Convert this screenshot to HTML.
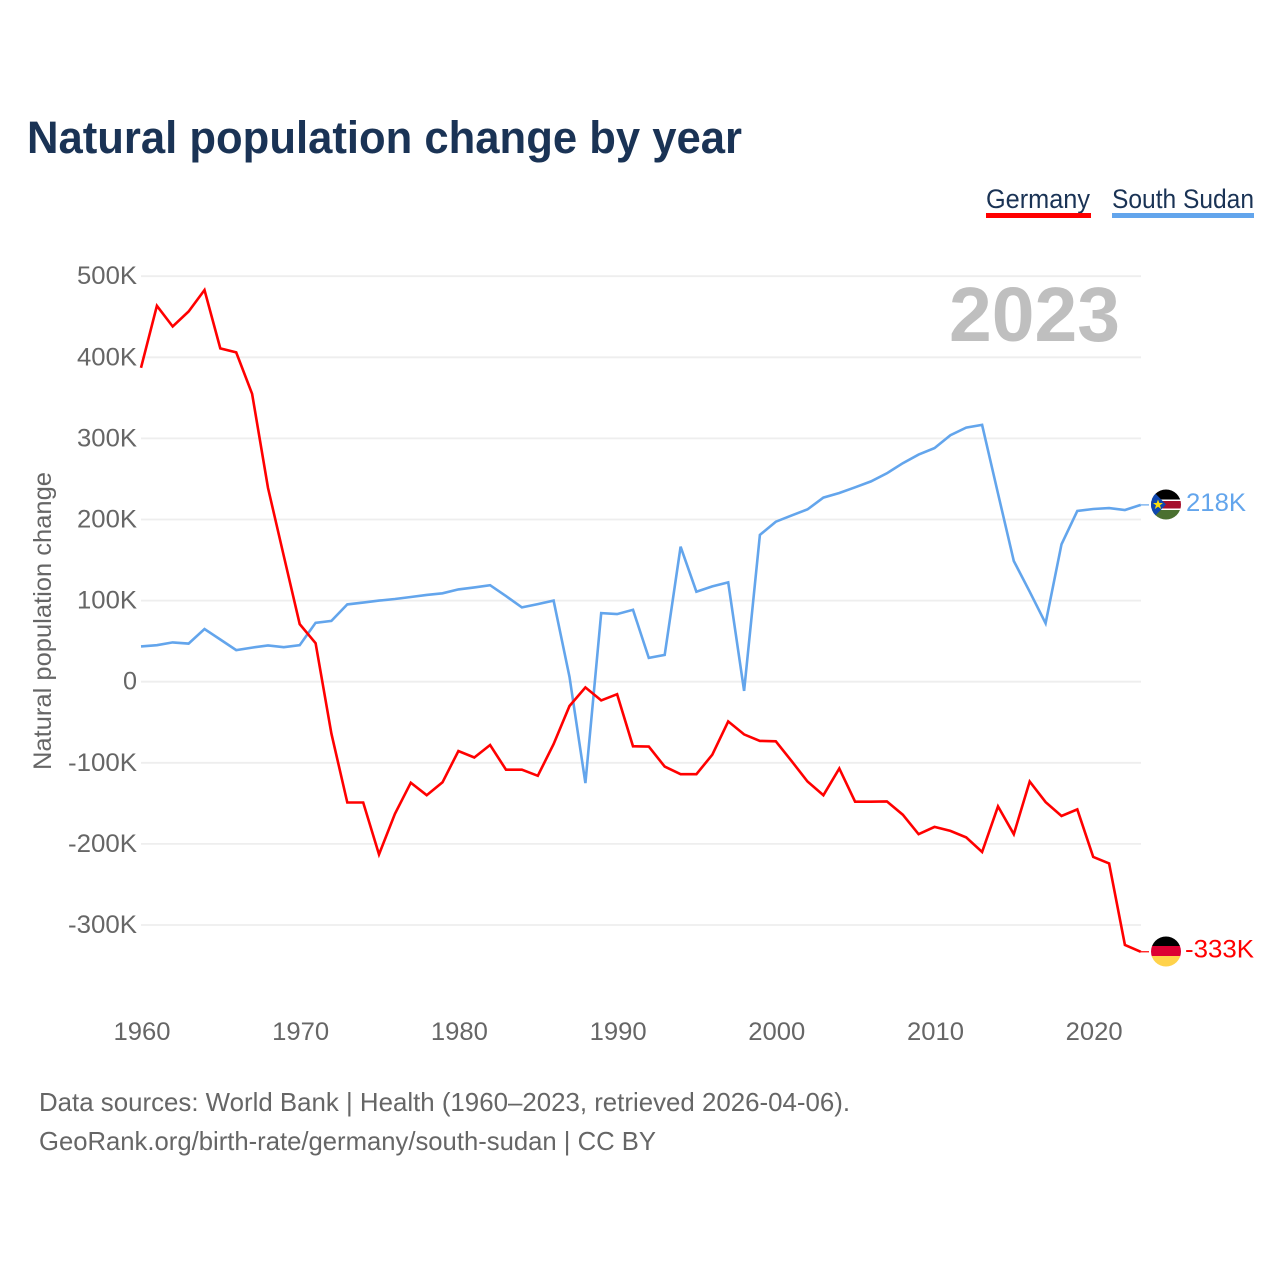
<!DOCTYPE html>
<html lang="en">
<head>
<meta charset="utf-8">
<title>Natural population change by year</title>
<style>
html,body{margin:0;padding:0;background:#fff;}
svg{display:block;font-family:"Liberation Sans",sans-serif;}
</style>
</head>
<body>
<svg id="chart" xmlns="http://www.w3.org/2000/svg" width="1280" height="1280" viewBox="0 0 1280 1280">
  <defs>
    <clipPath id="clip-ss"><circle cx="1166" cy="504.5" r="15"/></clipPath>
    <clipPath id="clip-de"><circle cx="1166" cy="951.5" r="15"/></clipPath>
  </defs>
  <rect width="1280" height="1280" fill="#fff"/>
  <text x="27" y="153" font-size="45" font-weight="700" fill="#1a3355" textLength="715" lengthAdjust="spacingAndGlyphs">Natural population change by year</text>

  <g>
    <text x="986" y="208" font-size="27" fill="#1a3355" textLength="104" lengthAdjust="spacingAndGlyphs">Germany</text>
    <rect x="986" y="213" width="105" height="5" fill="#ff0000"/>
  </g>
  <g>
    <text x="1112" y="208" font-size="27" fill="#1a3355" textLength="142" lengthAdjust="spacingAndGlyphs">South Sudan</text>
    <rect x="1112" y="213" width="142" height="5" fill="#63a5ec"/>
  </g>

  <g id="grid"></g>
  <g id="y-ticks"></g>
  <g id="x-ticks"></g>

  <text x="1120" y="341" text-anchor="end" font-size="77" font-weight="700" fill="#bfbfbf" textLength="171" lengthAdjust="spacingAndGlyphs">2023</text>

  <text transform="translate(51,770) rotate(-90)" font-size="25" fill="#666666" textLength="298" lengthAdjust="spacingAndGlyphs">Natural population change</text>

  <g id="series"></g>

  <g clip-path="url(#clip-ss)">
    <rect x="1151" y="489" width="30" height="10.5" fill="#000"/>
    <rect x="1151" y="499.5" width="30" height="1.5" fill="#fff"/>
    <rect x="1151" y="501" width="30" height="7.5" fill="#a50f2d"/>
    <rect x="1151" y="508.5" width="30" height="1.5" fill="#fff"/>
    <rect x="1151" y="510" width="30" height="11" fill="#4a7030"/>
    <polygon points="1151,489 1151,520 1166,504.5" fill="#0f47af"/>
    <polygon points="1158,499.5 1159.3,503 1163,503 1160,505.3 1161.2,509 1158,506.8 1154.8,509 1156,505.3 1153,503 1156.7,503" fill="#fcdd09"/>
  </g>
  <g clip-path="url(#clip-de)">
    <rect x="1151" y="936" width="30" height="10.5" fill="#000"/>
    <rect x="1151" y="946" width="30" height="10.5" fill="#dd0033"/>
    <rect x="1151" y="956" width="30" height="11" fill="#ffd24a"/>
  </g>

  <text x="39" y="1111" font-size="26" fill="#666666" textLength="811" lengthAdjust="spacingAndGlyphs">Data sources: World Bank | Health (1960–2023, retrieved 2026-04-06).</text>
  <text x="39" y="1150" font-size="26" fill="#666666" textLength="617" lengthAdjust="spacingAndGlyphs">GeoRank.org/birth-rate/germany/south-sudan | CC BY</text>
</svg>
<script>
var years = [1960,1961,1962,1963,1964,1965,1966,1967,1968,1969,1970,1971,1972,1973,1974,1975,1976,1977,1978,1979,1980,1981,1982,1983,1984,1985,1986,1987,1988,1989,1990,1991,1992,1993,1994,1995,1996,1997,1998,1999,2000,2001,2002,2003,2004,2005,2006,2007,2008,2009,2010,2011,2012,2013,2014,2015,2016,2017,2018,2019,2020,2021,2022,2023];
var germanyValues = [387,463.5,438,456.5,483,411,406,355,239,155,71,47.5,-64,-149,-149,-213,-163,-124.5,-140,-124,-85.4,-93.5,-78,-108.5,-108.5,-116,-77,-30,-7,-23,-15.4,-79.6,-80,-104.7,-114,-114,-90,-49,-65,-73,-73.5,-98,-123,-140,-107,-148,-148,-147.6,-164,-188,-179,-184,-192,-210,-153.7,-188,-123,-148.4,-165.6,-157.4,-216,-224,-324.5,-333];
var southSudanValues = [43.5,45,48.4,47,65,52,39,42,44.7,42.6,45,72.6,75,95.3,97.5,100,102,104.5,107,109,113.8,116.3,119,105.5,91.6,95.7,100,6,-125,84.6,83.3,88.7,29.4,33,166.5,111,117.5,122.5,-11.3,181,197.3,205,212.5,227,232.7,239.7,247,257,269.4,280,288,304,313.3,316.7,232,148.8,111,72,169.4,210.5,213,214,211.7,218];
var yTickValues = [500,400,300,200,100,0,-100,-200,-300];
var yTickLabels = ["500K","400K","300K","200K","100K","0","-100K","-200K","-300K"];
var xTickValues = [1960,1970,1980,1990,2000,2010,2020];
var germanyEndLabel = "-333K";
var southSudanEndLabel = "218K";

var NS = "http://www.w3.org/2000/svg";
function xScale(year){ return 141 + (year - 1960) * 15.87; }
function yScale(k){ return 681.7 - k * 0.811; }
function make(tag, parent){
  var e = document.createElementNS(NS, tag);
  parent.appendChild(e);
  return e;
}
function put(el, props){
  for (var k in props) el.setAttribute(k, props[k]);
  return el;
}
var gridG = document.getElementById('grid');
var yG = document.getElementById('y-ticks');
var xG = document.getElementById('x-ticks');
var seriesG = document.getElementById('series');

yTickValues.forEach(function(v, i){
  var line = put(make('line', gridG), {x1:141, x2:1141, y1:yScale(v), y2:yScale(v), stroke:'#eeeeee', 'stroke-width':1.8});
  
  
  var label = yTickLabels[i];
  var t = put(make('text', yG), {x:137, y:yScale(v)+8, 'text-anchor':'end', 'font-size':25, fill:'#666666', textLength: label.length === 1 ? 14 : (label.length === 5 ? 69 : 60), lengthAdjust:'spacingAndGlyphs'});
  
  
  t.textContent = label;
});

xTickValues.forEach(function(v){
  var t = put(make('text', xG), {x:xScale(v)+1, y:1040, 'text-anchor':'middle', 'font-size':25, fill:'#666666', textLength:57, lengthAdjust:'spacingAndGlyphs'});
  
  
  t.textContent = String(v);
});

function pathFrom(values){
  var pts = values.map(function(v, i){ return xScale(years[i]).toFixed(1) + ',' + yScale(v).toFixed(1); });
  var last = values[values.length - 1];
  return {line: 'M' + pts.join(' L'), lastY: yScale(last), lastX: xScale(years[years.length - 1])};
}

var de = pathFrom(germanyValues);
var ss = pathFrom(southSudanValues);

var ssLine = put(make('path', seriesG), {d:ss.line, fill:'none', stroke:'#63a5ec', 'stroke-width':2.6, 'stroke-linejoin':'miter'});



var deLine = put(make('path', seriesG), {d:de.line, fill:'none', stroke:'#ff0000', 'stroke-width':2.6, 'stroke-linejoin':'miter'});



var ssConn = put(make('line', seriesG), {x1:ss.lastX, x2:1149, y1:ss.lastY, y2:ss.lastY, stroke:'#63a5ec', 'stroke-width':1.2});



var deConn = put(make('line', seriesG), {x1:de.lastX, x2:1149, y1:de.lastY, y2:de.lastY, stroke:'#ff0000', 'stroke-width':1.2});



var ssLabel = put(make('text', seriesG), {x:1186, y:ss.lastY+6, 'font-size':25, fill:'#63a5ec', textLength:60, lengthAdjust:'spacingAndGlyphs'});


ssLabel.textContent = southSudanEndLabel;

var deLabel = put(make('text', seriesG), {x:1185, y:de.lastY+5.5, 'font-size':25, fill:'#ff0000', textLength:69, lengthAdjust:'spacingAndGlyphs'});


deLabel.textContent = germanyEndLabel;
</script>
</body>
</html>
